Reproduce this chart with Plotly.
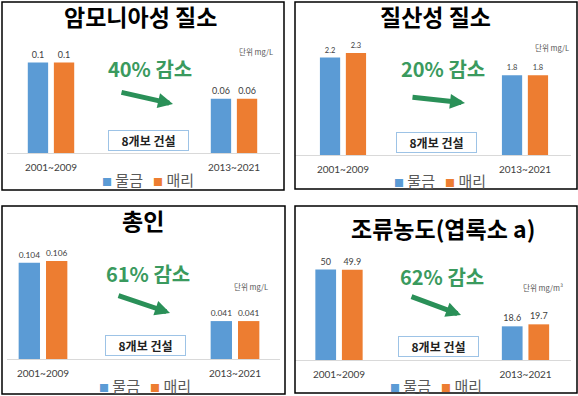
import plotly.graph_objects as go

W, H = 578, 396

# ---------------- data ----------------
periods = ["2001~2009", "2013~2021"]
series_names = ["물금", "매리"]
titles = ["암모니아성 질소", "질산성 질소", "총인", "조류농도(엽록소 a)"]
mulgeum = [[0.1, 0.06], [2.2, 1.8], [0.104, 0.041], [50, 18.6]]
maeri = [[0.1, 0.06], [2.3, 1.8], [0.106, 0.041], [49.9, 19.7]]
reductions = ["40% 감소", "20% 감소", "61% 감소", "62% 감소"]
units = ["단위 mg/L", "단위 mg/L", "단위 mg/L", "단위 mg/m³"]
event_label = "8개보 건설"

colors = ["#5b9bd5", "#ed7d31"]
KR = "Noto Sans CJK KR"
NUM = "Lato"

# ---------------- layout geometry (pixels) ----------------
panels = [
    dict(rect=(2, 2, 284, 190), line=(7, 280), centers=(51, 234), base=153, ppu=905,
         title=(140, 16), green=(150, 68), arrow=((120, 92), (173, 104)),
         box=(148, 140), unit=(256, 52), legend=(148, 179), vsize=9),
    dict(rect=(295, 2, 577, 189), line=(295, 571), centers=(343, 525), base=155, ppu=44.3,
         title=(435, 16), green=(443, 68), arrow=((411, 97), (465, 103)),
         box=(436, 142), unit=(552, 47), legend=(440, 180), vsize=7.5),
    dict(rect=(2, 206, 285, 394), line=(7, 280), centers=(43, 235), base=359, ppu=925,
         title=(143, 220), green=(148, 273), arrow=((117, 295), (170, 313)),
         box=(145, 345), unit=(251, 286), legend=(145, 385), vsize=9),
    dict(rect=(295, 206, 577, 393), line=(295, 571), centers=(339, 525.5), base=360, ppu=1.81,
         title=(443, 228), green=(442, 276), arrow=((410, 296), (461, 315)),
         box=(438, 346), unit=(543, 287), legend=(436, 385), vsize=9),
]

def px(x):
    return x / W

def py(y):
    return 1 - y / H

fig = go.Figure()
layout = dict(width=W, height=H, margin=dict(l=0, r=0, t=0, b=0),
              paper_bgcolor="white", plot_bgcolor="rgba(0,0,0,0)",
              barmode="group", bargap=0.715, bargroupgap=0.22, showlegend=False,
              font=dict(family=KR, color="#404040"))
annotations = []
shapes = []

for i, p in enumerate(panels):
    sfx = "" if i == 0 else str(i + 1)
    xa, ya = "x" + sfx, "y" + sfx
    for name, vals, col in zip(series_names, [mulgeum[i], maeri[i]], colors):
        fig.add_trace(go.Bar(
            x=periods, y=vals, name=name, marker=dict(color=col, line=dict(width=0)),
            texttemplate="%{y}", textposition="outside", cliponaxis=False,
            textfont=dict(family=NUM, size=p["vsize"], color="#404040"),
            xaxis=xa, yaxis=ya))
    l0, l1 = p["line"]
    c0, c1 = p["centers"]
    unit_px = c1 - c0
    layout["xaxis" + sfx] = dict(
        domain=[px(l0), px(l1)], range=[(l0 - c0) / unit_px, (l1 - c0) / unit_px],
        anchor=ya, showline=True, linecolor="#d9d9d9", linewidth=1,
        showgrid=False, zeroline=False, ticks="", ticklabelstandoff=5,
        tickfont=dict(family=NUM, size=10, color="#404040"), fixedrange=True)
    top = p["base"] - 120
    layout["yaxis" + sfx] = dict(
        domain=[py(p["base"]), py(top)], range=[0, 120 / p["ppu"]],
        anchor=xa, visible=False, fixedrange=True)
    # legend (series key) per panel
    key = "&nbsp;&nbsp;&nbsp;".join(
        "<span style='color:%s;font-size:10px'>■</span> %s" % (c, n)
        for c, n in zip(colors, series_names))
    annotations.append(dict(text=key, x=px(p["legend"][0]), y=py(p["legend"][1]),
                            xref="paper", yref="paper", showarrow=False,
                            xanchor="center", yanchor="middle",
                            font=dict(family=KR, size=15, color="#595959")))
    # panel border
    x0, y0, x1, y1 = p["rect"]
    shapes.append(dict(type="rect", xref="paper", yref="paper",
                       x0=px(x0), x1=px(x1), y0=py(y1), y1=py(y0),
                       line=dict(color="black", width=1.5)))
    # title
    annotations.append(dict(text="<b>%s</b>" % titles[i], x=px(p["title"][0]), y=py(p["title"][1]),
                            xref="paper", yref="paper", showarrow=False,
                            xanchor="center", yanchor="middle",
                            font=dict(family=KR, size=23, color="black")))
    # green reduction text
    annotations.append(dict(text="<b>%s</b>" % reductions[i], x=px(p["green"][0]), y=py(p["green"][1]),
                            xref="paper", yref="paper", showarrow=False,
                            xanchor="center", yanchor="middle",
                            font=dict(family=KR, size=20, color="#3a9a5e")))
    # arrow
    (tx, ty), (hx, hy) = p["arrow"]
    annotations.append(dict(text="", x=px(hx), y=py(hy), xref="paper", yref="paper",
                            ax=tx - hx, ay=ty - hy, axref="pixel", ayref="pixel",
                            showarrow=True, arrowhead=2, arrowsize=0.6, arrowwidth=5,
                            arrowcolor="#2a9058"))
    # event box
    annotations.append(dict(text="<b>%s</b>" % event_label, x=px(p["box"][0]), y=py(p["box"][1]),
                            xref="paper", yref="paper", showarrow=False,
                            xanchor="center", yanchor="middle",
                            bordercolor="#9dc3e6", borderwidth=1, borderpad=2,
                            width=75, height=15, bgcolor="white",
                            font=dict(family=KR, size=12, color="#222222")))
    # unit
    annotations.append(dict(text=units[i], x=px(p["unit"][0]), y=py(p["unit"][1]),
                            xref="paper", yref="paper", showarrow=False,
                            xanchor="center", yanchor="middle",
                            font=dict(family=KR, size=7.5, color="#555555")))

layout["annotations"] = annotations
layout["shapes"] = shapes
fig.update_layout(**layout)
fig.write_html("out.html", config={"displayModeBar": False, "staticPlot": True},
               post_script="document.body.style.margin='0';")
